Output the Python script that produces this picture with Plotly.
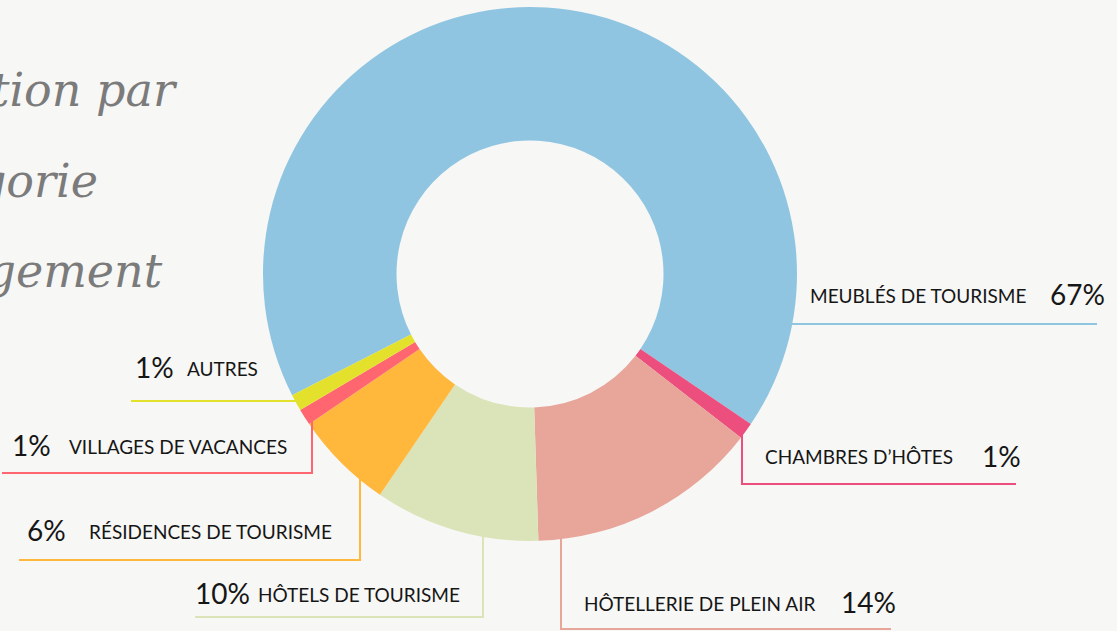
import math
import plotly.graph_objects as go

# ---------------- data ----------------
categories = [
    "MEUBLÉS DE TOURISME",
    "CHAMBRES D’HÔTES",
    "HÔTELLERIE DE PLEIN AIR",
    "HÔTELS DE TOURISME",
    "RÉSIDENCES DE TOURISME",
    "VILLAGES DE VACANCES",
    "AUTRES",
]
values = [67, 1, 14, 10, 6, 1, 1]
colors = ["#8FC5E1", "#EC4E7E", "#E8A59A", "#DBE4B9", "#FFB73C", "#FF6670", "#E3E12C"]
title_lines = ["Répartition par", "catégorie", "d’hébergement"]

# ---------------- layout helpers ----------------
W, H = 1117, 631
CX, CY, R = 530, 274, 267          # donut centre / outer radius (pixels)
HOLE = 0.5
ROTATION = -117                    # start angle of first slice (clockwise from 12 o'clock)
BG = "#F7F7F5"


def px(x):
    return x / W


def py(y):
    return 1 - y / H


# label placement (pixels): leader kind, line anchor, corner, end, text positions
label_layout = [
    dict(kind="h", y=324, end=1097, side="R", label_x=808, pct_x=1048, text_y=295),
    dict(kind="v", x=742, y=484, end=1016, side="R", label_x=763, pct_x=980, text_y=457),
    dict(kind="v", x=561, y=629, end=891, side="R", label_x=582, pct_x=839, text_y=603),
    dict(kind="v", x=483, y=617, end=195, side="L", label_x=256, pct_x=193, text_y=594),
    dict(kind="v", x=360, y=560, end=19, side="L", label_x=87, pct_x=25, text_y=531),
    dict(kind="v", x=312, y=473, end=2, side="L", label_x=67, pct_x=10, text_y=446),
    dict(kind="h", y=401, end=131, side="L", label_x=185, pct_x=133, text_y=368),
]

fig = go.Figure()
fig.add_trace(
    go.Pie(
        labels=categories,
        values=values,
        marker=dict(colors=colors, line=dict(width=0)),
        hole=HOLE,
        sort=False,
        direction="clockwise",
        rotation=ROTATION,
        textinfo="none",
        hoverinfo="label+percent",
        showlegend=False,
        domain=dict(x=[px(CX - R), px(CX + R)], y=[py(CY + R), py(CY - R)]),
    )
)

shapes = []
annotations = []
LINE_W = 2
TEXT_COLOR = "#161616"
total = sum(values)
for cat, val, col, lay in zip(categories, values, colors, label_layout):
    if lay["kind"] == "h":
        y = lay["y"]
        dx = math.sqrt(max(R * R - (y - CY) ** 2, 0))
        x0 = CX + dx - 2 if lay["side"] == "R" else CX - dx + 2
        shapes.append(dict(type="line", xref="paper", yref="paper",
                           x0=px(x0), y0=py(y), x1=px(lay["end"]), y1=py(y),
                           line=dict(color=col, width=LINE_W)))
    else:
        x = lay["x"]
        dy = math.sqrt(max(R * R - (x - CX) ** 2, 0))
        y0 = CY + dy - 14 if cat.startswith("VILLAGES") else CY + dy - 2
        shapes.append(dict(type="path", xref="paper", yref="paper",
                           path=f"M {px(x)},{py(y0)} L {px(x)},{py(lay['y'])} L {px(lay['end'])},{py(lay['y'])}",
                           line=dict(color=col, width=LINE_W)))
    pct = f"{round(val / total * 100)}%"
    annotations.append(dict(text=cat, x=px(lay["label_x"]), y=py(lay["text_y"]),
                            xref="paper", yref="paper", xanchor="left", yanchor="middle",
                            showarrow=False,
                            font=dict(family="Lato, Noto Sans, sans-serif", size=19, color=TEXT_COLOR)))
    annotations.append(dict(text=pct, x=px(lay["pct_x"]), y=py(lay["text_y"] - 1),
                            xref="paper", yref="paper", xanchor="left", yanchor="middle",
                            showarrow=False,
                            font=dict(family="Lato, Noto Sans, sans-serif", size=28, color=TEXT_COLOR)))

# script-like title, partially cut by the left edge (as in the original)
title_right = [180, 100, 165]
title_y = [90, 181, 271]
for t, xr, yy in zip(title_lines, title_right, title_y):
    annotations.append(dict(text=f"<i>{t}</i>", x=px(xr), y=py(yy), xref="paper", yref="paper",
                            xanchor="right", yanchor="middle", showarrow=False,
                            font=dict(family="DejaVu Serif, serif", size=46, color="#7B7B7B")))

fig.update_layout(
    width=W,
    height=H,
    margin=dict(l=0, r=0, t=0, b=0),
    paper_bgcolor=BG,
    plot_bgcolor=BG,
    shapes=shapes,
    annotations=annotations,
)

fig.write_html(
    "out.html",
    config={"displayModeBar": False},
    post_script=f"document.body.style.margin='0';document.body.style.overflow='hidden';document.body.style.background='{BG}';",
)
